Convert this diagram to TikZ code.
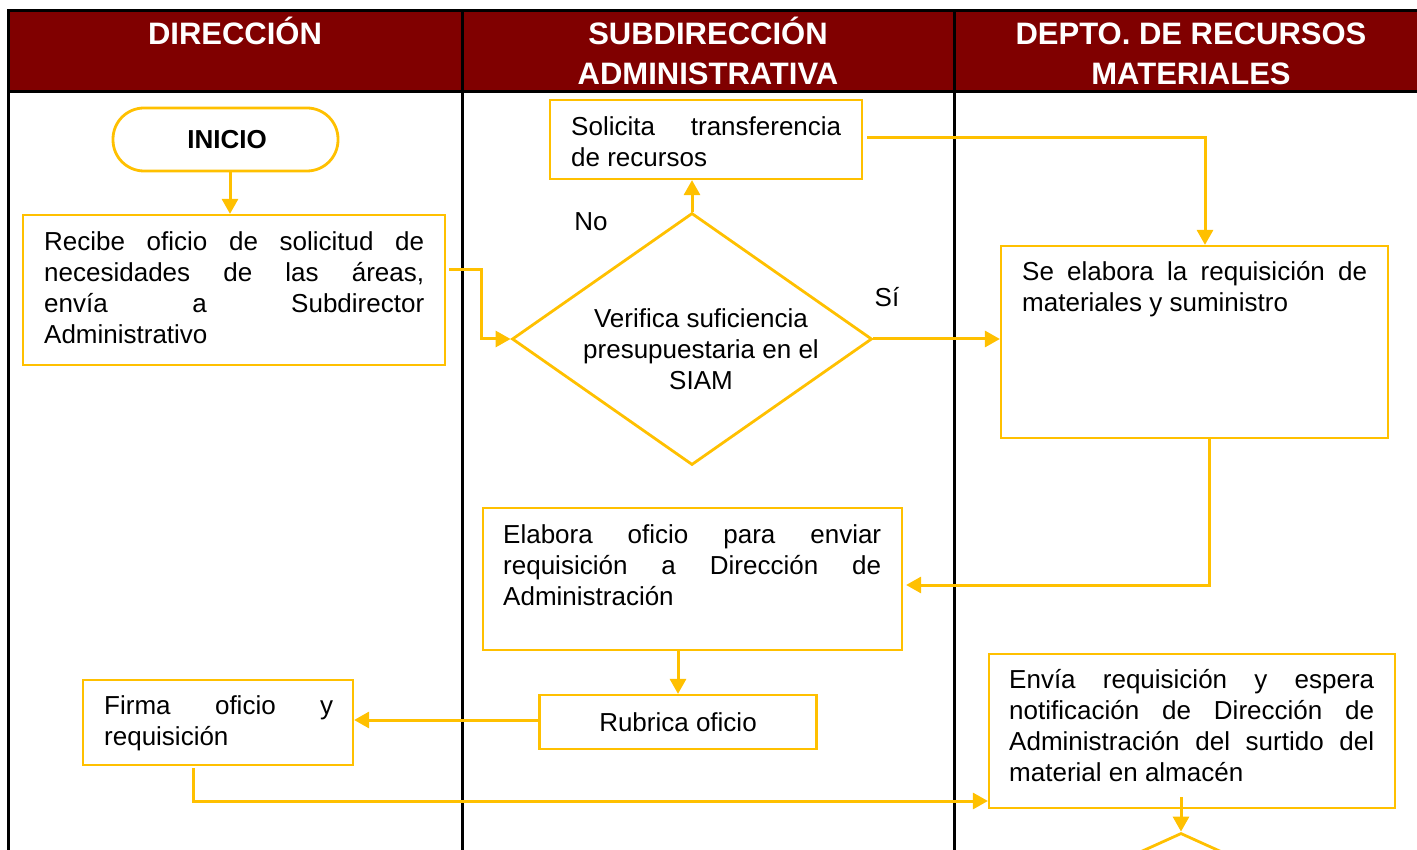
\documentclass[tikz,border=0pt]{standalone}
\usepackage{fontspec}
\setmainfont{Liberation Sans}
\usetikzlibrary{arrows.meta,shapes.geometric,fit}
\definecolor{gold}{HTML}{FFC000}
\definecolor{hdrred}{HTML}{800000}
\newcommand{\bodyfnt}{\fontsize{26}{31}\selectfont}
\newcommand{\hdrfnt}{\fontsize{31}{40}\selectfont\bfseries}
\newcommand{\jbox}[2]{\parbox[t]{#1}{\bodyfnt #2}}
\begin{document}
\begin{tikzpicture}[x=1pt,y=-1pt,
  box/.style={draw=gold, line width=2.2pt, inner sep=0pt},
  arr/.style={draw=gold, line width=3pt, -{Triangle[length=15pt,width=16pt]}},
  txt/.style={anchor=base west, inner sep=0pt, text=black},
  hdr/.style={anchor=base, inner sep=0pt, text=white},
  lane/.style={draw=black, line width=3pt},
  dec/.style={draw=gold, line width=2.8pt, shape=diamond, inner sep=0pt}
]
\path[use as bounding box, clip] (0,0) rectangle (1417,850);
% swimlane table
\fill[hdrred] (8,11) rectangle (1417,92);
\draw[lane] (1417,11) -- (8,11) -- (8,850);
\draw[lane] (8,92) -- (1417,92);
\draw[lane] (462,11) -- (462,850);
\draw[lane] (954,11) -- (954,850);
\node[hdr] (h1) at (235,45) {\hdrfnt DIRECCIÓN};
\node[hdr] (h2) at (708,45) {\parbox[t]{480pt}{\centering\hdrfnt SUBDIRECCIÓN\\ADMINISTRATIVA}};
\node[hdr] (h3) at (1191,45) {\parbox[t]{480pt}{\centering\hdrfnt DEPTO. DE RECURSOS\\MATERIALES}};

% nodes
\node[draw=gold, line width=2.8pt, rounded corners=31pt, minimum width=225pt, minimum height=63pt, inner sep=0pt] (inicio) at (225.5,139.5) {\bodyfnt\bfseries\hspace*{3pt}INICIO};
\node[box, fit={(23,215) (445,365)}] (recibe) {};
\node[txt] (recibeT) at (44,251) {\jbox{380pt}{Recibe oficio de solicitud de\linebreak necesidades de las áreas,\linebreak envía a Subdirector\linebreak Administrativo}};

\node[dec, minimum width=360pt, minimum height=252pt] (dia) at (692,339) {};
\node[anchor=base, inner sep=0pt] (diaT) at (701,327.5) {\parbox[t]{320pt}{\centering\bodyfnt Verifica suficiencia\\presupuestaria en el\\SIAM}};
\node[anchor=base, inner sep=0pt] (no) at (591,231) {\bodyfnt No};
\node[anchor=base, inner sep=0pt] (si) at (887,307) {\bodyfnt Sí};

\node[box, fit={(550,100) (862,179)}] (solicita) {};
\node[txt] (solicitaT) at (571,136) {\jbox{270pt}{Solicita transferencia\linebreak de recursos}};

\node[box, fit={(1001,246) (1388,438)}] (seelab) {};
\node[txt] (seelabT) at (1022,281) {\jbox{345pt}{Se elabora la requisición de\linebreak materiales y suministro}};

\node[box, fit={(483,508) (902,650)}] (elab) {};
\node[txt] (elabT) at (503,543) {\jbox{378pt}{Elabora oficio para enviar\linebreak requisición a Dirección de\linebreak Administración}};

\node[box, minimum width=277pt, minimum height=54pt] (rubrica) at (678,722) {\bodyfnt Rubrica oficio};

\node[box, fit={(83,680) (353,765)}] (firma) {};
\node[txt] (firmaT) at (104,714) {\jbox{229pt}{Firma oficio y\linebreak requisición}};

\node[box, fit={(989,654) (1395,808)}] (envia) {};
\node[txt] (enviaT) at (1009,688) {\jbox{365pt}{Envía requisición y espera\linebreak notificación de Dirección de\linebreak Administración del surtido del\linebreak material en almacén}};

\node[dec, minimum width=300pt, minimum height=136pt] (dia2) at (1181,901) {};

% connectors
\draw[arr] ([xshift=4.5pt]inicio.south) -- ([xshift=4.5pt]recibe.north -| inicio.south);
\coordinate (k2) at (481,270);
\draw[arr] ([xshift=3pt]recibe.east |- k2) -- (k2) |- (dia.west);
\draw[arr] (dia.north) -- (solicita.south -| dia.north);
\coordinate (k4) at (1205,138);
\draw[arr] ([xshift=4pt]solicita.east |- k4) -| (seelab.north -| k4);
\draw[arr] (dia.east) -- (seelab.west |- dia.east);
\coordinate (k6) at (1209,585);
\draw[arr] (seelab.south -| k6) |- ([xshift=3pt]elab.east |- k6);
\draw[arr] (elab.south -| rubrica.north) -- (rubrica.north);
\coordinate (k8) at (540,720);
\draw[arr] (rubrica.west |- k8) -- (firma.east |- k8);
\coordinate (k9) at (193,801);
\draw[arr] ([yshift=-2pt]firma.south -| k9) |- (envia.west |- k9);
\coordinate (k10) at (1181,797);
\draw[arr] (k10) -- (dia2.north);
\end{tikzpicture}
\end{document}
